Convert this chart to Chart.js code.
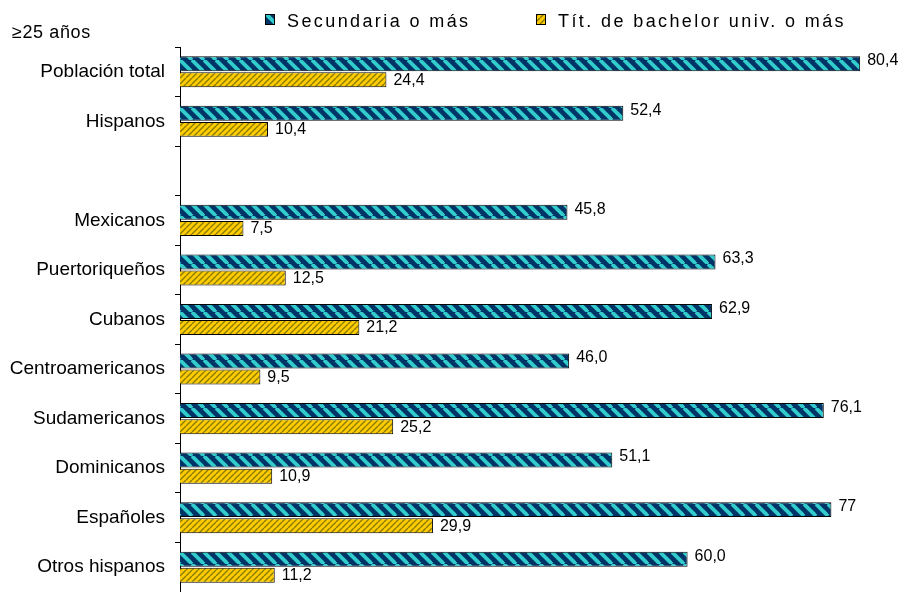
<!DOCTYPE html>
<html><head><meta charset="utf-8">
<script src="https://cdn.jsdelivr.net/npm/chart.js@4/dist/chart.umd.min.js"></script>
<style>html,body{margin:0;padding:0;background:#fff;overflow:hidden}canvas{display:block}</style>
</head><body><canvas id="c" width="905" height="592"></canvas>
<script>
const categories = ['Población total','Hispanos','','Mexicanos','Puertoriqueños','Cubanos','Centroamericanos','Sudamericanos','Dominicanos','Españoles','Otros hispanos'];
const secundaria = [80.4,52.4,null,45.8,63.3,62.9,46.0,76.1,51.1,77,60.0];
const bachelor = [24.4,10.4,null,7.5,12.5,21.2,9.5,25.2,10.9,29.9,11.2];
const secundariaLabels = ['80,4','52,4','','45,8','63,3','62,9','46,0','76,1','51,1','77','60,0'];
const bachelorLabels = ['24,4','10,4','','7,5','12,5','21,2','9,5','25,2','10,9','29,9','11,2'];
const seriesNames = ['Secundaria o más','Tít. de bachelor univ. o más'];
const noteText = '≥25 años';

const canvas = document.getElementById('c');
const mainCtx = canvas.getContext('2d');
function makeStripePattern(base, stripe, w, h, lineW, dir) {
  const c = document.createElement('canvas'); c.width = w; c.height = h;
  const g = c.getContext('2d');
  g.fillStyle = base; g.fillRect(0, 0, w, h);
  g.strokeStyle = stripe; g.lineWidth = lineW;
  for (let k = -2; k <= 2; k++) {
    g.beginPath();
    if (dir === 'down') { g.moveTo(k * w, 0); g.lineTo(k * w + w, h); }
    else { g.moveTo(k * w + w, 0); g.lineTo(k * w, h); }
    g.stroke();
  }
  return mainCtx.createPattern(c, 'repeat');
}
const bluePattern = makeStripePattern('#003366', '#33CCCC', 12, 12, 3.8, 'down');
const yellowPattern = makeStripePattern('#FFCC00', '#8C7A00', 6, 6, 1.4, 'up');

const valueLabels = {
  id: 'valueLabels',
  afterDatasetsDraw(chart) {
    const ctx = chart.ctx;
    ctx.save();
    ctx.font = '16px "Liberation Sans", Arial, sans-serif';
    ctx.fillStyle = '#000';
    ctx.textBaseline = 'middle';
    ctx.textAlign = 'left';
    const sets = [secundariaLabels, bachelorLabels];
    const dy = [-3, 0.5];
    chart.data.datasets.forEach((ds, di) => {
      const meta = chart.getDatasetMeta(di);
      meta.data.forEach((el, i) => {
        if (ds.data[i] == null) return;
        ctx.fillText(sets[di][i], el.x + 7, el.y + dy[di]);
      });
    });
    ctx.restore();
  }
};

const customLegend = {
  id: 'customLegend',
  afterDraw(chart) {
    const ctx = chart.ctx;
    ctx.save();
    const items = [
      {x: 265, tx: 287, fill: bluePattern, text: seriesNames[0]},
      {x: 536, tx: 558, fill: yellowPattern, text: seriesNames[1]}
    ];
    ctx.font = '18px "Liberation Sans", Arial, sans-serif';
    ctx.letterSpacing = '2.4px';
    ctx.textBaseline = 'alphabetic';
    items.forEach(it => {
      ctx.fillStyle = it.fill;
      ctx.fillRect(it.x, 14, 10, 11);
      ctx.strokeStyle = '#000';
      ctx.lineWidth = 1;
      ctx.strokeRect(it.x + 0.5, 14.5, 9, 10);
      ctx.fillStyle = '#000';
      ctx.fillText(it.text, it.tx, 27);
    });
    ctx.letterSpacing = '0.6px';
    ctx.font = '18px "Liberation Sans", Arial, sans-serif';
    ctx.fillText(noteText, 12, 38);
    ctx.restore();
  }
};

new Chart(canvas, {
  type: 'bar',
  data: {
    labels: categories,
    datasets: [
      {label: seriesNames[0], data: secundaria, backgroundColor: bluePattern, borderColor: '#000', borderWidth: 1, categoryPercentage: 0.65, barPercentage: 0.93},
      {label: seriesNames[1], data: bachelor, backgroundColor: yellowPattern, borderColor: '#000', borderWidth: 1, categoryPercentage: 0.65, barPercentage: 0.93}
    ]
  },
  options: {
    indexAxis: 'y',
    responsive: false,
    animation: false,
    layout: {padding: {top: 47, left: 0, right: 0, bottom: 0}},
    plugins: {legend: {display: false}, tooltip: {enabled: false}},
    scales: {
      x: {display: false, min: 0, max: 85.7},
      y: {
        offset: true,
        grid: {display: true, drawOnChartArea: false, drawTicks: true, tickLength: 5, color: '#000', offset: true, lineWidth: 1},
        border: {display: true, color: '#000', width: 1},
        ticks: {color: '#000', font: {family: '"Liberation Sans", Arial, sans-serif', size: 19}, padding: 10, autoSkip: false},
        afterFit(s) { s.width = 180; s.paddingTop = 0; s.paddingBottom = 0; }
      }
    }
  },
  plugins: [valueLabels, customLegend]
});
</script>
</body></html>
